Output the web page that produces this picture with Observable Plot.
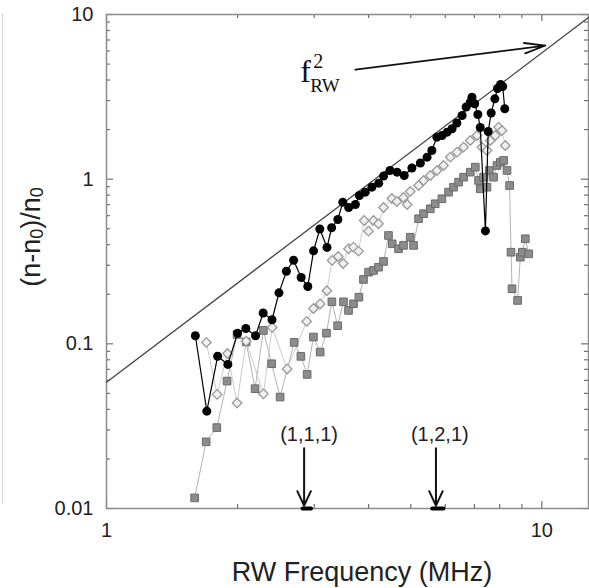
<!DOCTYPE html>
<html><head><meta charset="utf-8">
<script src="https://cdn.jsdelivr.net/npm/d3@7"></script>
<script src="https://cdn.jsdelivr.net/npm/@observablehq/plot@0.6"></script>
<style>
html,body{margin:0;padding:0;background:#fff;}
#chart{position:relative;width:589px;height:588px;overflow:hidden;background:#fff;}
#edge{position:absolute;left:2px;top:14px;width:0;height:490px;border-left:1px dotted #c4c4c4;}
#chart svg{position:absolute;left:0;top:0;}
</style></head><body>
<div id="chart"><div id="edge"></div></div>
<script>
// ---- data (RW frequency in MHz, (n-n0)/n0) ----
const blackF = [1.60,1.70,1.80,1.90,2.00,2.09,2.20,2.29,2.40,2.49,2.59,2.69,2.80,2.90,2.99,3.09,3.21,3.29,3.40,3.49,3.60,3.73,3.81,3.93,4.07,4.22,4.33,4.48,4.65,4.83,5.03,5.26,5.45,5.59,5.74,5.90,6.06,6.22,6.38,6.56,6.70,6.85,6.91,7.01,7.13,7.22,7.42,7.53,7.65,7.80,7.91,8.04,8.13,8.22];
const blackY = [0.112,0.039,0.084,0.075,0.116,0.124,0.112,0.154,0.140,0.204,0.276,0.322,0.253,0.223,0.367,0.498,0.385,0.507,0.569,0.725,0.673,0.702,0.796,0.834,0.894,0.946,1.046,1.129,1.103,1.053,1.169,1.254,1.36,1.494,1.799,1.842,1.93,2.023,2.194,2.437,2.745,2.934,3.146,2.869,2.47,2.06,0.485,1.949,2.523,3.076,3.553,3.758,3.654,2.676];

const diamF = [1.696,1.795,1.897,1.995,2.093,2.293,2.402,2.600,2.883,2.988,3.096,3.208,3.299,3.406,3.497,3.597,3.693,3.792,3.908,3.998,4.105,4.216,4.329,4.524,4.646,4.811,4.906,4.985,5.210,5.350,5.543,5.742,5.946,6.162,6.385,6.611,6.849,7.096,7.286,7.482,7.613,7.817,7.955,8.099,8.243];
const diamY = [0.102,0.0493,0.0874,0.0437,0.1038,0.0497,0.1258,0.0704,0.1368,0.164,0.1747,0.210,0.321,0.3393,0.3077,0.378,0.3865,0.3655,0.5614,0.4833,0.5614,0.536,0.673,0.763,0.732,0.774,0.702,0.842,0.915,0.982,1.053,1.129,1.211,1.360,1.459,1.564,1.718,1.842,1.564,1.494,1.718,1.842,2.069,1.976,1.602];

const sqF = [1.594,1.694,1.792,1.892,1.995,2.093,2.194,2.293,2.395,2.505,2.698,2.796,2.890,2.988,3.096,3.201,3.294,3.396,3.502,3.597,3.693,3.80,3.893,4.00,4.105,4.216,4.329,4.444,4.532,4.686,4.811,4.985,5.074,5.210,5.350,5.543,5.690,5.895,6.105,6.269,6.438,6.611,6.849,7.033,7.157,7.222,7.349,7.482,7.573,7.748,7.889,8.030,8.170,8.318,8.433,8.496,8.541,8.797,8.924,9.019,9.164,9.326];
const sqY = [0.0116,0.0254,0.0310,0.0594,0.114,0.1027,0.0534,0.1206,0.0757,0.0475,0.102,0.0839,0.0652,0.110,0.0891,0.1161,0.180,0.1288,0.180,0.1595,0.175,0.192,0.246,0.2725,0.279,0.292,0.3164,0.455,0.405,0.378,0.396,0.444,0.396,0.575,0.617,0.661,0.709,0.760,0.834,0.894,0.959,1.028,1.103,1.183,0.982,0.874,1.028,0.894,1.129,1.028,1.211,1.268,1.299,1.129,0.915,0.360,0.216,0.1834,0.336,0.360,0.4346,0.352];

// f^2 reference line (end points)
const fitF = [1, 12.8];
const fitY = [0.0585, 9.58];

// annotation arrow to the f^2 line
const arrowF = [3.73, 10.19];
const arrowY = [4.62, 6.48];
const fLabelF = 2.785, fLabelY = 3.865;

// mode markers
const modeNames = ["(1,1,1)", "(1,2,1)"];
const modeF = [2.844, 5.712];
const modeLabelF = [2.92, 5.83];
const modeLabelY = 0.0282;
const modeArrowTop = 0.0232, modeArrowTip = 0.0104;
const modeBarF1 = [2.82, 5.60];
const modeBarF2 = [2.95, 5.94];

// axes
const xDomain = [1, 12.8];
const yDomain = [0.01, 10];
const xMajor = [1, 10];
const xMinor = [2,3,4,5,6,7,8,9];
const yMajor = [0.01, 0.1, 1, 10];
const yMinor = [0.02,0.03,0.04,0.05,0.06,0.07,0.08,0.09,0.2,0.3,0.4,0.5,0.6,0.7,0.8,0.9,2,3,4,5,6,7,8,9];
const xTitle = "RW Frequency (MHz)";

// ---- layout ----
const W = 589, H = 588, mL = 106, mR = 1, mT = 14, mB = 80;
const innerW = W - mL - mR, innerH = H - mT - mB;
const majorLen = 7, minorLen = 4;

// ---- build ----
const black = blackF.map((f,i)=>({f, v: blackY[i]}));
const diamonds = diamF.map((f,i)=>({f, v: diamY[i]}));
const squares = sqF.map((f,i)=>({f, v: sqY[i]}));
const fit = fitF.map((f,i)=>({f, v: fitY[i]}));
const anno = [{f: fLabelF, v: fLabelY}];
const modes = modeNames.map((name,i)=>({name, f: modeF[i], lf: modeLabelF[i], b1: modeBarF1[i], b2: modeBarF2[i]}));

const serif = "'Liberation Serif', 'Times New Roman', serif";
const tickColor = "#6e6e6e";
// inward ticks: full-frame rules shortened with insets
const ticksX = (vals, len) => [
  Plot.ruleX(vals, {stroke: tickColor, strokeWidth: 1.2, insetTop: innerH - len}),
  Plot.ruleX(vals, {stroke: tickColor, strokeWidth: 1.2, insetBottom: innerH - len})
];
const ticksY = (vals, len) => [
  Plot.ruleY(vals, {stroke: tickColor, strokeWidth: 1.2, insetRight: innerW - len}),
  Plot.ruleY(vals, {stroke: tickColor, strokeWidth: 1.2, insetLeft: innerW - len})
];

const plot = Plot.plot({
  width: W, height: H,
  marginLeft: mL, marginRight: mR, marginTop: mT, marginBottom: mB,
  style: {fontFamily: "'Liberation Sans', Arial, sans-serif", color: "#222", background: "transparent"},
  x: {type: "log", domain: xDomain},
  y: {type: "log", domain: yDomain},
  marks: [
    ...ticksX(xMajor, majorLen),
    ...ticksX(xMinor, minorLen),
    ...ticksY(yMajor, majorLen),
    ...ticksY(yMinor, minorLen),
    Plot.axisX(xMajor, {anchor: "bottom", tickSize: 0, tickPadding: 14, fontSize: 20, tickFormat: d => String(d), label: null, fill: "#222"}),
    Plot.axisY(yMajor, {anchor: "left", tickSize: 0, tickPadding: 13, fontSize: 20, tickFormat: d => String(d), label: null, fill: "#222"}),
    Plot.frame({stroke: "#8c8c8c", strokeWidth: 1.5}),
    Plot.line(fit, {x: "f", y: "v", stroke: "#444", strokeWidth: 1.3}),
    Plot.line(squares, {x: "f", y: "v", stroke: "#b3b3b3", strokeWidth: 1}),
    Plot.line(diamonds, {x: "f", y: "v", stroke: "#cccccc", strokeWidth: 1}),
    Plot.dot(squares, {x: "f", y: "v", symbol: "square", r: 4.3, fill: "#8c8c8c", stroke: "#6a6a6a", strokeWidth: 1}),
    Plot.dot(diamonds, {x: "f", y: "v", symbol: "diamond2", r: 4.3, fill: "#f0f0f0", stroke: "#9a9a9a", strokeWidth: 1.3}),
    Plot.line(black, {x: "f", y: "v", stroke: "#000", strokeWidth: 1.2}),
    Plot.dot(black, {x: "f", y: "v", r: 4.5, fill: "#000"}),
    Plot.arrow([0], {x1: () => arrowF[0], y1: () => arrowY[0], x2: () => arrowF[1], y2: () => arrowY[1], stroke: "#111", strokeWidth: 1.8, headLength: 18, headAngle: 28}),
    Plot.text(anno, {x: "f", y: "v", text: () => "f", fontFamily: serif, fontSize: 32, textAnchor: "start", lineAnchor: "bottom", fill: "#111"}),
    Plot.text(anno, {x: "f", y: "v", text: () => "2", fontFamily: serif, fontSize: 20, textAnchor: "start", lineAnchor: "bottom", dx: 13, dy: -14, fill: "#111"}),
    Plot.text(anno, {x: "f", y: "v", text: () => "RW", fontFamily: serif, fontSize: 19, textAnchor: "start", lineAnchor: "bottom", dx: 10, dy: 10, fill: "#111"}),
    Plot.text(modes, {x: "lf", y: () => modeLabelY, text: "name", fontSize: 20, fill: "#222"}),
    Plot.arrow(modes, {x1: "f", x2: "f", y1: () => modeArrowTop, y2: () => modeArrowTip, stroke: "#111", strokeWidth: 2, headLength: 12, headAngle: 50}),
    Plot.link(modes, {x1: "b1", x2: "b2", y1: () => yDomain[0], y2: () => yDomain[0], stroke: "#000", strokeWidth: 4, strokeLinecap: "round"})
  ]
});

const svg = d3.select(plot);
svg.append("text")
  .attr("x", 362).attr("y", 572)
  .attr("text-anchor", "middle").attr("dominant-baseline", "central")
  .style("font-family", "'Liberation Sans', Arial, sans-serif").style("font-size", "27px").style("fill", "#222")
  .text(xTitle);

const yt = svg.append("text")
  .attr("transform", "translate(31,237) rotate(-90)")
  .attr("text-anchor", "middle").attr("dominant-baseline", "central")
  .style("font-family", "'Liberation Sans', Arial, sans-serif").style("font-size", "27px").style("fill", "#222");
yt.append("tspan").text("(n-n");
yt.append("tspan").attr("dy", 6).style("font-size", "18px").text("0");
yt.append("tspan").attr("dy", -6).text(")/n");
yt.append("tspan").attr("dy", 6).style("font-size", "18px").text("0");

document.getElementById("chart").appendChild(plot);
</script>
</body></html>
